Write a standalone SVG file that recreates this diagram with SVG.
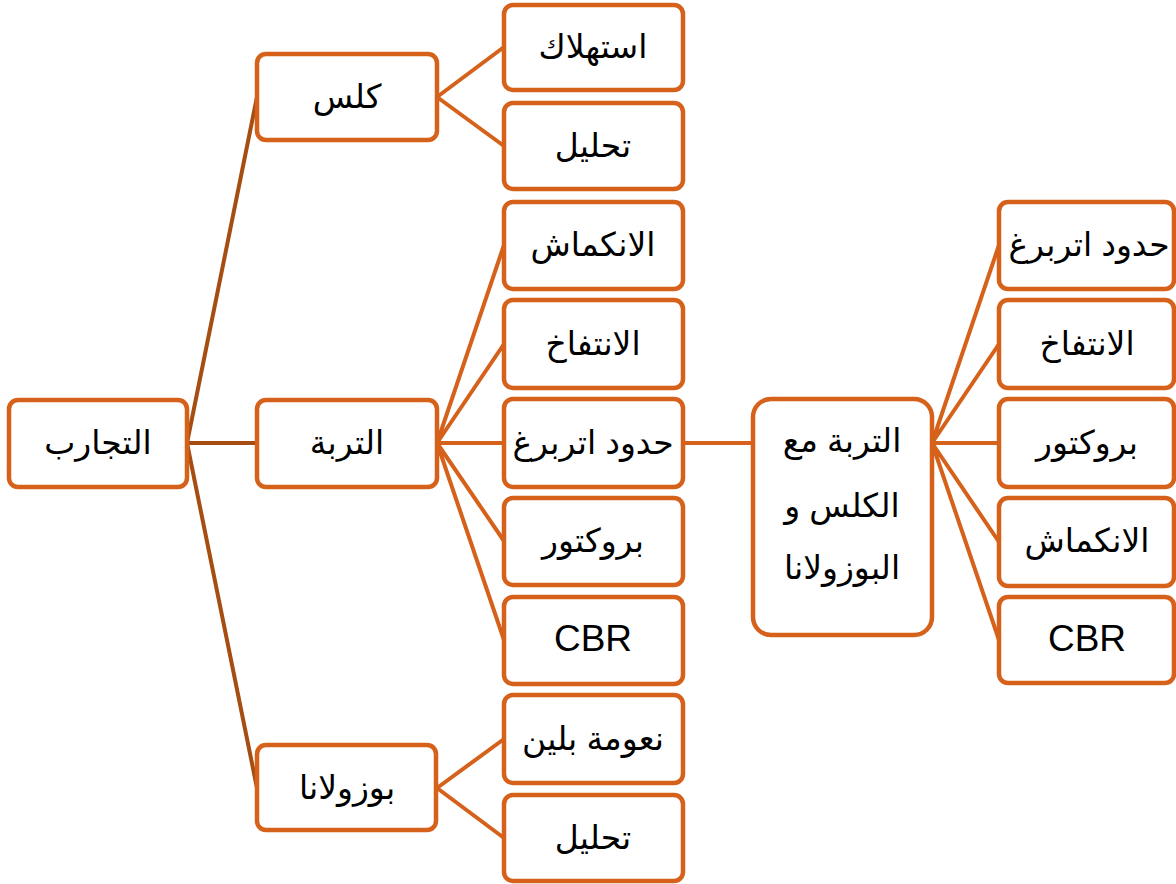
<svg xmlns="http://www.w3.org/2000/svg" width="1176" height="884" viewBox="0 0 1176 884">
<style>
.box{fill:#fff;stroke:#D5611A;stroke-width:4.5}
.t{font-family:"Liberation Sans","DejaVu Sans",Arial,sans-serif;font-size:33px;fill:#000;text-anchor:middle}
.l{font-size:37px}
.c1{stroke:#A64D12;stroke-width:4;fill:none}
.c2{stroke:#D5611A;stroke-width:4;fill:none}
</style>
<rect width="1176" height="884" fill="#fff"/>
<g id="connectors">
<path class="c1" d="M187,443 L257,97 M187,443 L257,443 M187,443 L257,788"/>
<path class="c2" d="M437,97 L504,47 M437,97 L504,146"/>
<path class="c2" d="M437,443 L504,245 M437,443 L504,344 M437,443 L504,443 M437,443 L504,541 M437,443 L504,640"/>
<path class="c2" d="M683,443 L753,443"/>
<path class="c2" d="M932,443 L999,245 M932,443 L999,344 M932,443 L999,443 M932,443 L999,542 M932,443 L999,640"/>
<path class="c2" d="M437,788 L504,739 M437,788 L504,838"/>
</g>
<g id="n-root"><rect class="box" x="9" y="400" width="178" height="87" rx="9"/><text class="t" x="98" y="454" direction="rtl">التجارب</text></g>
<g id="n-kals"><rect class="box" x="257" y="54" width="180" height="86" rx="9"/><text class="t" x="347" y="108" direction="rtl">كلس</text></g>
<g id="n-turba"><rect class="box" x="257" y="400" width="180" height="87" rx="9"/><text class="t" x="347" y="454" direction="rtl">التربة</text></g>
<g id="n-pozz"><rect class="box" x="257" y="745" width="179" height="85" rx="9"/><text class="t" x="347" y="799" direction="rtl">بوزولانا</text></g>
<g id="n-k1"><rect class="box" x="504" y="5" width="179" height="85" rx="9"/><text class="t" x="593" y="58" direction="rtl">استهلاك</text></g>
<g id="n-k2"><rect class="box" x="504" y="103" width="179" height="86" rx="9"/><text class="t" x="593" y="157" direction="rtl">تحليل</text></g>
<g id="n-t1"><rect class="box" x="504" y="202" width="179" height="87" rx="9"/><text class="t" x="593" y="256" direction="rtl">الانكماش</text></g>
<g id="n-t2"><rect class="box" x="504" y="300" width="179" height="88" rx="9"/><text class="t" x="593" y="355" direction="rtl">الانتفاخ</text></g>
<g id="n-t3"><rect class="box" x="504" y="399" width="179" height="88" rx="9"/><text class="t" x="593" y="454" direction="rtl">حدود اتربرغ</text></g>
<g id="n-t4"><rect class="box" x="504" y="498" width="179" height="87" rx="9"/><text class="t" x="593" y="552" direction="rtl">بروكتور</text></g>
<g id="n-t5"><rect class="box" x="504" y="597" width="179" height="87" rx="9"/><text class="t l" x="593" y="651">CBR</text></g>
<g id="n-p1"><rect class="box" x="504" y="695" width="179" height="88" rx="9"/><text class="t" x="593" y="750" direction="rtl">نعومة بلين</text></g>
<g id="n-p2"><rect class="box" x="504" y="795" width="179" height="86" rx="9"/><text class="t" x="593" y="849" direction="rtl">تحليل</text></g>
<g id="n-mix"><rect class="box" x="753" y="399" width="179" height="236" rx="18"/>
<text class="t" x="842" y="452" direction="rtl">التربة مع</text>
<text class="t" x="842" y="517" direction="rtl">الكلس و</text>
<text class="t" x="842" y="579" direction="rtl">البوزولانا</text></g>
<g id="n-m1"><rect class="box" x="999" y="202" width="175" height="87" rx="9"/><text class="t" x="1089" y="256" direction="rtl">حدود اتربرغ</text></g>
<g id="n-m2"><rect class="box" x="999" y="300" width="175" height="88" rx="9"/><text class="t" x="1087" y="355" direction="rtl">الانتفاخ</text></g>
<g id="n-m3"><rect class="box" x="999" y="399" width="175" height="88" rx="9"/><text class="t" x="1087" y="454" direction="rtl">بروكتور</text></g>
<g id="n-m4"><rect class="box" x="999" y="498" width="175" height="88" rx="9"/><text class="t" x="1087" y="552" direction="rtl">الانكماش</text></g>
<g id="n-m5"><rect class="box" x="999" y="597" width="175" height="86" rx="9"/><text class="t l" x="1087" y="651">CBR</text></g>
</svg>
